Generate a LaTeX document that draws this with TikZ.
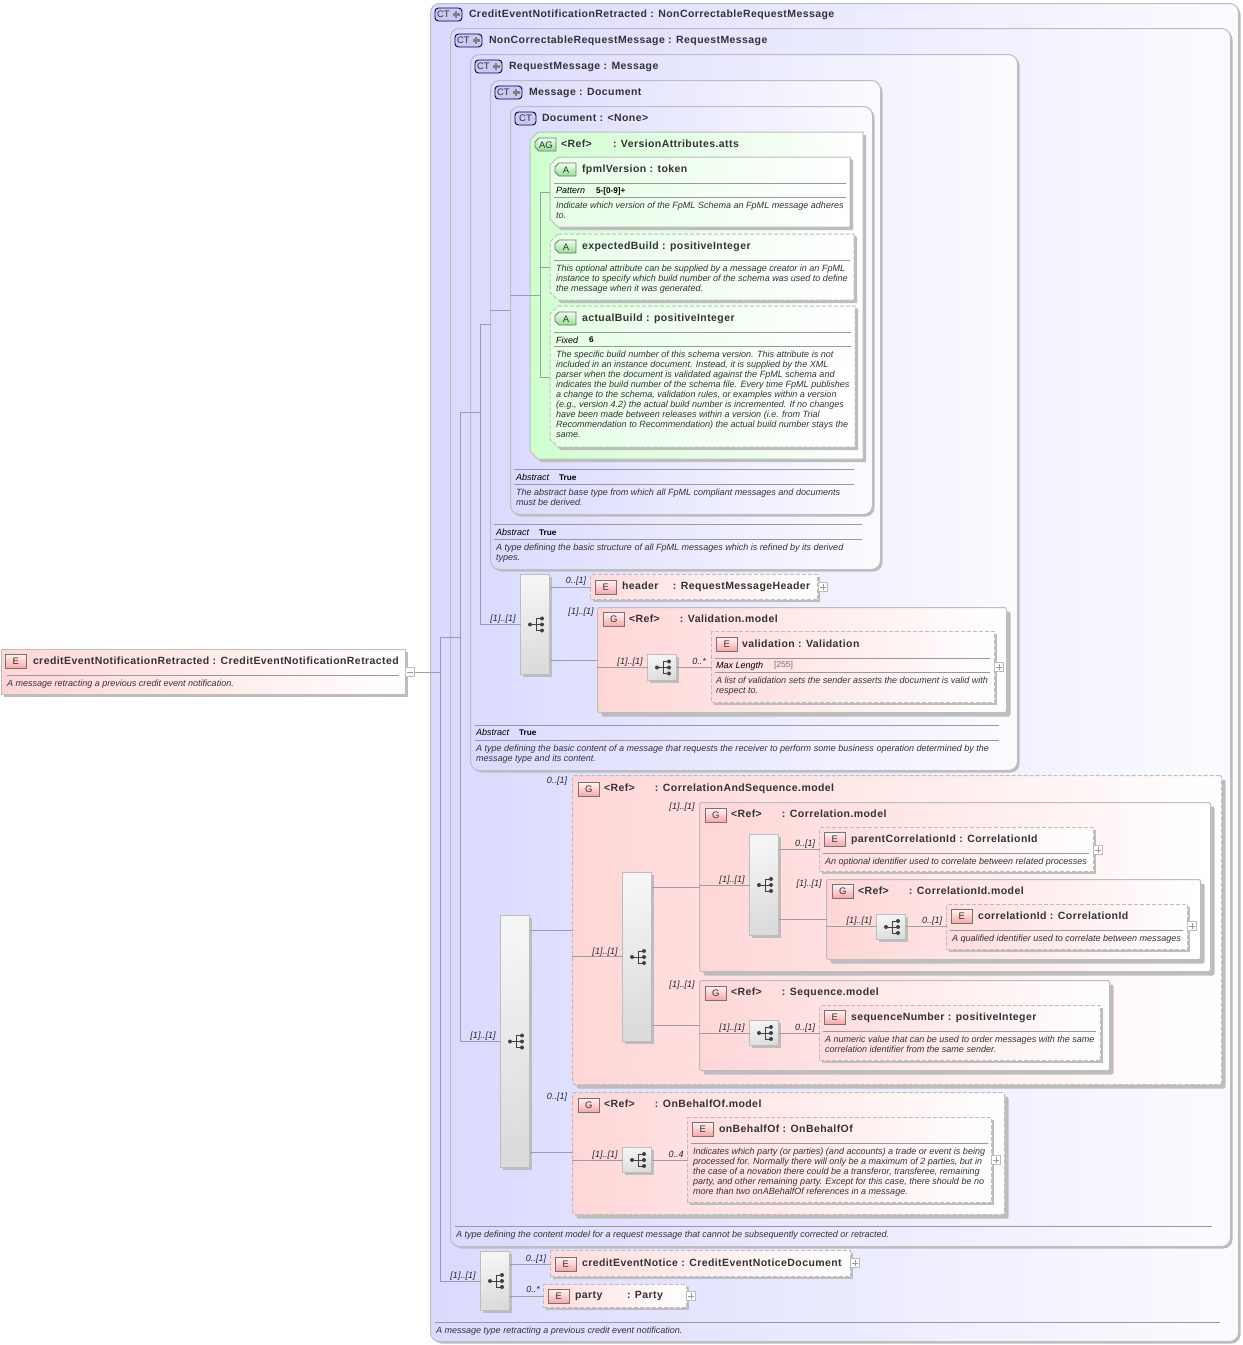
\documentclass[tikz,border=0pt]{standalone}
\usepackage{fontspec}
\setmainfont{Liberation Sans}
\newfontfamily\ttlf{Liberation Sans}[LetterSpace=4.0]
\usetikzlibrary{shadows,calc}
\definecolor{bd}{HTML}{BDBDBD}
\definecolor{ln}{HTML}{9C9CA4}
\definecolor{tx}{HTML}{333333}
\definecolor{lav}{HTML}{DADAFF}
\definecolor{lavr}{HTML}{FBFBFF}
\definecolor{pnk}{HTML}{FFD6D6}
\definecolor{grn}{HTML}{CFFFCF}
\definecolor{bpk}{HTML}{F8A4A4}
\definecolor{bgr}{HTML}{8FE08F}
\definecolor{bct}{HTML}{C9C9F2}
\tikzset{
  base/.style={draw=bd,line width=1pt,inner sep=0pt,outer sep=0pt,rectangle},
  shad/.style={general shadow={shadow xshift=#1,shadow yshift=-#1,fill=bd}},
  ctbox/.style={base,rounded corners=9pt,left color=lav,right color=lavr,shad=2pt},
  gbox/.style={base,rounded corners=2pt,left color=pnk,right color=white,shad=4pt},
  gdash/.style={gbox,dash pattern=on 4pt off 2pt},
  ebox/.style={base,left color=pnk,right color=white,shad=2pt},
  edash/.style={ebox,left color=pnk!85!white,dash pattern=on 4pt off 2pt},
  agbox/.style={draw=bd,line width=1pt,left color=grn,right color=white,shad=3pt},
  abox/.style={agbox,left color=grn!55!white,shad=2pt},
  adash/.style={abox,dash pattern=on 4pt off 2pt},
  anch/.style={inner sep=0pt,outer sep=0pt,rectangle,anchor=north west},
  seqbox/.style={base,top color=white!96!black,bottom color=white!86!black,shading angle=15,shad=2pt},
  conn/.style={draw=ln,line width=.8pt},
  rule/.style={draw=black!40,line width=.7pt},
  ttl/.style={anchor=base west,inner sep=0pt,outer sep=0pt,text=tx,font=\fontsize{10.5}{12}\ttlf\bfseries},
  dsc/.style={anchor=north west,inner sep=0pt,outer sep=0pt,align=left,text=tx,font=\fontsize{9.03}{10.1}\selectfont\itshape},
  key/.style={anchor=base west,inner sep=0pt,outer sep=0pt,text=black,font=\fontsize{9}{10}\selectfont\itshape},
  val/.style={anchor=base west,inner sep=0pt,outer sep=0pt,text=black,font=\fontsize{8.2}{9}\selectfont\bfseries},
  card/.style={anchor=center,inner sep=0pt,outer sep=0pt,text=black!85,text height=7pt,text depth=2pt,font=\fontsize{9}{10}\selectfont\itshape},
  bdg/.style={inner sep=0pt,outer sep=0pt,text=black!80,font=\fontsize{9.5}{10}\selectfont},
  bE/.style={bdg,anchor=north west,draw=black!55,line width=.9pt,minimum width=21.5pt,minimum height=14.5pt,rectangle,top color=red!4!white,bottom color=bpk},
  bCT/.style={bdg,anchor=north west,draw=black!70!blue,line width=.9pt,rounded corners=3.5pt,minimum height=13pt,rectangle,fill=bct},
  bApath/.style={draw=black!55,line width=.9pt,top color=green!6!white,bottom color=bgr},
  expd/.style={draw=bd,fill=white,line width=.7pt,rectangle,minimum size=9pt,inner sep=0pt,outer sep=0pt}
}
\newcounter{tn}
\newcommand\BX[6]{\node[#1,minimum width={(#5-#3-1)*1pt},minimum height={(#6-#4-1)*1pt},anchor=north west] (#2) at (#3+.5,#4+.5) {};}
\newcommand\CH[6]{\node[anch,minimum width={(#5-#3)*1pt},minimum height={(#6-#4)*1pt}] (#2) at (#3,#4) {};
  \path[#1] (#3+8,#4) -- (#5,#4) -- (#5,#6) -- (#3+8,#6) -- (#3,#6-8) -- (#3,#4+8) -- cycle;}
\newcommand\TT[3]{\stepcounter{tn}\node[ttl] (t\arabic{tn}) at (#1,#2+4) {#3};}
\newcommand\DD[3]{\stepcounter{tn}\node[dsc] (t\arabic{tn}) at (#1,#2-4) {\rule{0pt}{7pt}#3};}
\newcommand\KK[3]{\stepcounter{tn}\node[key] (t\arabic{tn}) at (#1,#2) {#3};}
\newcommand\VV[3]{\stepcounter{tn}\node[val] (t\arabic{tn}) at (#1,#2) {#3};}
\newcommand\CC[3]{\stepcounter{tn}\node[card] (t\arabic{tn}) at (#1,#2+1) {#3};}
\newcommand\HL[3]{\draw[rule] (#1,#3) -- (#2,#3);}
\newcommand\BE[3]{\stepcounter{tn}\node[bE] (t\arabic{tn}) at (#1,#2) {#3};}
\newcommand\BC[2]{\stepcounter{tn}\node[bCT,minimum width=21pt] (t\arabic{tn}) at (#1,#2) {CT};}
\newcommand\BP[2]{\stepcounter{tn}\node[bCT,minimum width=27pt,text width=25pt,align=left] (t\arabic{tn}) at (#1,#2) {\hspace{1pt}CT};
  \draw[black!50,line width=2.2pt] (#1+17.5,#2+6.5) -- (#1+24.5,#2+6.5) (#1+21,#2+3) -- (#1+21,#2+10);}
\newcommand\BA[3]{\stepcounter{tn}\path[bApath] (#1+4,#2) -- (#1+21,#2) -- (#1+21,#2+13) -- (#1+4,#2+13) -- (#1,#2+9) -- (#1,#2+4) -- cycle;
  \node[bdg] (t\arabic{tn}) at (#1+11,#2+6.8) {#3};}
\newcommand\SQ[5]{\BX{seqbox}{#1}{#2}{#3}{#4}{#5}
  \begin{scope}[shift={(#1.center)}]
    \draw[black!75,line width=.8pt] (-5,0) -- (1,0) (1,-6) -- (1,6) (1,-6) -- (7,-6) (1,0) -- (7,0) (1,6) -- (7,6);
    \fill[black!75] (-5,0) circle (2pt) (7,-6) circle (2pt) (7,0) circle (2pt) (7,6) circle (2pt);
  \end{scope}}
\newcommand\EX[3]{\node[expd] (#1) at (#2,#3) {};\draw[black!40,line width=.6pt] ($(#1.center)+(-3,0)$) -- ($(#1.center)+(3,0)$) ($(#1.center)+(0,-3)$) -- ($(#1.center)+(0,3)$);}
\begin{document}
\begin{tikzpicture}[x=1pt,y=-1pt]
\useasboundingbox (0,0) rectangle (1243,1345);
% Complex types
\BX{ctbox}{ct1}{430}{3}{1239}{1342}
\BP{435}{8}\TT{469}{13}{CreditEventNotificationRetracted : NonCorrectableRequestMessage}
\HL{435}{1220}{1322}\DD{436}{1330}{A message type retracting a previous credit event notification.}
\BX{ctbox}{ct2}{450}{28}{1231}{1247}
\BP{455}{34}\TT{489}{39}{NonCorrectableRequestMessage : RequestMessage}
\HL{455}{1212}{1226}\DD{456}{1234}{A type defining the content model for a request message that cannot be subsequently corrected or retracted.}
\BX{ctbox}{ct3}{470}{54}{1018}{771}
\BP{475}{60}\TT{509}{65}{RequestMessage : Message}
\HL{475}{999}{725}\HL{475}{999}{740}
\KK{476}{735}{Abstract}\VV{519}{735}{True}
\DD{476}{748}{A type defining the basic content of a message that requests the receiver to perform some business operation determined by the\\message type and its content.}
\BX{ctbox}{ct4}{490}{80}{881}{570}
\BP{495}{86}\TT{529}{91}{Message : Document}
\HL{494}{862}{524}\HL{494}{862}{539}
\KK{496}{535}{Abstract}\VV{539}{535}{True}
\DD{496}{547}{A type defining the basic structure of all FpML messages which is refined by its derived\\types.}
\BX{ctbox}{ct5}{510}{106}{873}{515}
\BC{515}{112}\TT{542}{117}{Document : <None>}
\HL{514}{854}{469}\HL{514}{854}{484}
\KK{516}{480}{Abstract}\VV{559}{480}{True}
\DD{516}{492}{The abstract base type from which all FpML compliant messages and documents\\must be derived.}
% Attribute group
\CH{agbox}{ag}{530}{132}{863}{459}
\BA{535}{138}{AG}\TT{561}{143}{\makebox[52pt][l]{<Ref>}: VersionAttributes.atts}
\CH{abox}{afv}{550}{157}{850}{227}
\BA{555}{163}{A}\TT{582}{168}{fpmlVersion : token}
\HL{554}{846}{183}\HL{554}{846}{197}
\KK{556}{193}{Pattern}\VV{596}{193}{5-[0-9]+}
\DD{556}{205}{Indicate which version of the FpML Schema an FpML message adheres\\to.}
\CH{adash}{aeb}{550}{234}{854}{300}
\BA{555}{240}{A}\TT{582}{245}{expectedBuild : positiveInteger}
\HL{554}{850}{260}
\DD{556}{268}{This optional attribute can be supplied by a message creator in an FpML\\instance to specify which build number of the schema was used to define\\the message when it was generated.}
\CH{adash}{aab}{550}{306}{855}{447}
\BA{555}{312}{A}\TT{582}{317}{actualBuild : positiveInteger}
\HL{554}{851}{332}\HL{554}{851}{346}
\KK{556}{343}{Fixed}\VV{589}{342}{6}
\DD{556}{354}{The specific build number of this schema version. This attribute is not\\included in an instance document. Instead, it is supplied by the XML\\parser when the document is validated against the FpML schema and\\indicates the build number of the schema file. Every time FpML publishes\\a change to the schema, validation rules, or examples within a version\\(e.g., version 4.2) the actual build number is incremented. If no changes\\have been made between releases within a version (i.e. from Trial\\Recommendation to Recommendation) the actual build number stays the\\same.}
% Root
\BX{ebox}{root}{1}{649}{406}{695}
\BE{5}{654}{E}\TT{33}{660}{creditEventNotificationRetracted : CreditEventNotificationRetracted}
\HL{7}{399}{675}\DD{7}{683}{A message retracting a previous credit event notification.}
\node[expd] (rootx) at (410,672) {};\draw[black!40,line width=.6pt] (407,672) -- (413,672);
% Sequence A
\SQ{seqA}{520}{574}{550}{675}
\BX{edash}{hdr}{590}{574}{818}{600}
\BE{595}{580}{E}\TT{622}{585}{\makebox[51pt][l]{header}: RequestMessageHeader}
\EX{hdrx}{823}{587}
\BX{gbox}{gval}{597}{607}{1007}{713}
\BE{603}{612}{G}\TT{629}{618}{\makebox[51pt][l]{<Ref>}: Validation.model}
\SQ{seqB}{647}{654}{677}{681}
\BX{edash}{eval}{711}{631}{995}{703}
\BE{716}{637}{E}\TT{742}{643}{validation : Validation}
\HL{715}{990}{658}\HL{715}{990}{672}
\KK{716}{668}{Max Length}\stepcounter{tn}\node[val,font=\fontsize{8.6}{9}\selectfont,text=black!55] (t\arabic{tn}) at (774,667.5) {[255]};
\DD{716}{680}{A list of validation sets the sender asserts the document is valid with\\respect to.}
\EX{evalx}{999}{667}
% Sequence C
\SQ{seqC}{500}{915}{530}{1168}
\BX{gdash}{gcs}{572}{775}{1222}{1085}
\BE{578}{782}{G}\TT{604}{787}{\makebox[51pt][l]{<Ref>}: CorrelationAndSequence.model}
\SQ{seqD}{622}{872}{652}{1042}
\BX{gbox}{gcor}{699}{802}{1211}{972}
\BE{705}{808}{G}\TT{731}{813}{\makebox[51pt][l]{<Ref>}: Correlation.model}
\SQ{seqE}{749}{834}{779}{936}
\BX{edash}{epc}{819}{827}{1094}{872}
\BE{824}{832}{E}\TT{851}{838}{parentCorrelationId : CorrelationId}
\HL{823}{1089}{853}\DD{825}{861}{An optional identifier used to correlate between related processes}
\EX{epcx}{1098}{850}
\BX{gbox}{gcid}{826}{879}{1201}{960}
\BE{832}{884}{G}\TT{858}{890}{\makebox[51pt][l]{<Ref>}: CorrelationId.model}
\SQ{seqF}{876}{914}{906}{940}
\BX{edash}{ecid}{946}{904}{1188}{950}
\BE{951}{909}{E}\TT{978}{915}{correlationId : CorrelationId}
\HL{950}{1183}{930}\DD{952}{938}{A qualified identifier used to correlate between messages}
\EX{ecidx}{1192}{926}
\BX{gbox}{gseq}{699}{980}{1110}{1071}
\BE{705}{986}{G}\TT{731}{991}{\makebox[51pt][l]{<Ref>}: Sequence.model}
\SQ{seqG}{749}{1020}{779}{1046}
\BX{edash}{esn}{819}{1005}{1101}{1061}
\BE{824}{1010}{E}\TT{851}{1016}{sequenceNumber : positiveInteger}
\HL{823}{1096}{1031}\DD{825}{1039}{A numeric value that can be used to order messages with the same\\correlation identifier from the same sender.}
\BX{gdash}{gob}{572}{1092}{1005}{1215}
\BE{578}{1098}{G}\TT{604}{1103}{\makebox[51pt][l]{<Ref>}: OnBehalfOf.model}
\SQ{seqH}{622}{1147}{652}{1173}
\BX{edash}{eob}{687}{1117}{992}{1203}
\BE{692}{1122}{E}\TT{719}{1128}{onBehalfOf : OnBehalfOf}
\HL{691}{988}{1143}\DD{693}{1151}{Indicates which party (or parties) (and accounts) a trade or event is being\\processed for. Normally there will only be a maximum of 2 parties, but in\\the case of a novation there could be a transferor, transferee, remaining\\party, and other remaining party. Except for this case, there should be no\\more than two onABehalfOf references in a message.}
\EX{eobx}{996}{1160}
% Last sequence
\SQ{seqI}{480}{1251}{510}{1311}
\BX{edash}{ecen}{550}{1250}{851}{1277}
\BE{555}{1257}{E}\TT{582}{1262}{creditEventNotice : CreditEventNoticeDocument}
\EX{ecenx}{855}{1263}
\BX{edash}{epty}{543}{1284}{687}{1308}
\BE{548}{1289}{E}\TT{575}{1294}{\makebox[52pt][l]{party}: Party}
\EX{eptyx}{691}{1296}
% Junctions
\coordinate (b1t) at (440,637);\coordinate (b1m) at (440,672);\coordinate (b1b) at (440,1281);
\coordinate (b2c) at (460,637);\coordinate (b2t) at (460,412);\coordinate (b2b) at (460,1041);
\coordinate (b3c) at (480,412);\coordinate (b3t) at (480,324);\coordinate (b3b) at (480,624);
\coordinate (b4a) at (490,310);\coordinate (b4b) at (510,310);\coordinate (b4c) at (510,295);\coordinate (b4d) at (540,295);
\coordinate (b5t) at (540,192);\coordinate (b5b) at (540,377);\coordinate (b5m) at (540,267);
% Connectors
\draw[conn] (rootx.east) -- (b1m);
\draw[conn] (b1t) -- (b1b);
\draw[conn] (b1t) -- (b2c);
\draw[conn] (b2t) -- (b2b);
\draw[conn] (b2t) -- (b3c);
\draw[conn] (b3t) -- (b3b);
\draw[conn] (b3t) -- (ct4.west |- b3t);
\draw[conn] (b4a) -- (b4b);
\draw[conn] (b4c) -- (b4d);
\draw[conn] (b5t) -- (b5b);
\draw[conn] (b5t) -- (afv.west |- b5t);
\draw[conn] (b5m) -- (aeb.west |- b5m);
\draw[conn] (b5b) -- (aab.west |- b5b);
\draw[conn] (b3b) -- (seqA.west |- b3b);
\draw[conn] (b2b) -- (seqC.west |- b2b);
\draw[conn] (b1b) -- (seqI.west |- b1b);
\coordinate (c1) at (549,587);\coordinate (c2) at (549,660);\coordinate (c3) at (597,667);
\draw[conn] (seqA.east |- c1) -- (hdr.west |- c1);
\draw[conn] (seqA.east |- c2) -- (gval.west |- c2);
\draw[conn] (c3) -- (seqB.west |- c3);
\draw[conn] (seqB.east |- c3) -- (eval.west |- c3);
\coordinate (c4) at (530,930);\coordinate (c5) at (530,1152);\coordinate (c6) at (572,956);\coordinate (c7) at (572,1160);
\draw[conn] (seqC.east |- c4) -- (gcs.west |- c4);
\draw[conn] (seqC.east |- c5) -- (gob.west |- c5);
\draw[conn] (c6) -- (seqD.west |- c6);
\draw[conn] (c7) -- (seqH.west |- c7);
\draw[conn] (seqH.east |- c7) -- (eob.west |- c7);
\coordinate (c8) at (652,887);\coordinate (c9) at (652,1025);\coordinate (c10) at (699,885);\coordinate (c11) at (699,1033);
\draw[conn] (seqD.east |- c8) -- (gcor.west |- c8);
\draw[conn] (seqD.east |- c9) -- (gseq.west |- c9);
\draw[conn] (c10) -- (seqE.west |- c10);
\draw[conn] (c11) -- (seqG.west |- c11);
\draw[conn] (seqG.east |- c11) -- (esn.west |- c11);
\coordinate (c12) at (779,849);\coordinate (c13) at (779,919);\coordinate (c14) at (826,926);
\draw[conn] (seqE.east |- c12) -- (epc.west |- c12);
\draw[conn] (seqE.east |- c13) -- (gcid.west |- c13);
\draw[conn] (c14) -- (seqF.west |- c14);
\draw[conn] (seqF.east |- c14) -- (ecid.west |- c14);
\coordinate (c15) at (510,1264);\coordinate (c16) at (510,1296);
\draw[conn] (seqI.east |- c15) -- (ecen.west |- c15);
\draw[conn] (seqI.east |- c16) -- (epty.west |- c16);
% Cardinalities
\CC{503}{618}{[1]..[1]}\CC{576}{580}{0..[1]}\CC{581}{611}{[1]..[1]}\CC{630}{661}{[1]..[1]}\CC{699}{661}{0..*}
\CC{483}{1035}{[1]..[1]}\CC{557}{780}{0..[1]}\CC{605}{951}{[1]..[1]}\CC{682}{806}{[1]..[1]}\CC{732}{879}{[1]..[1]}
\CC{805}{843}{0..[1]}\CC{809}{883}{[1]..[1]}\CC{859}{920}{[1]..[1]}\CC{932}{920}{0..[1]}
\CC{682}{984}{[1]..[1]}\CC{732}{1027}{[1]..[1]}\CC{805}{1027}{0..[1]}
\CC{557}{1096}{0..[1]}\CC{605}{1154}{[1]..[1]}\CC{676}{1154}{0..4}
\CC{463}{1275}{[1]..[1]}\CC{536}{1258}{0..[1]}\CC{533}{1289}{0..*}
\end{tikzpicture}
\end{document}
